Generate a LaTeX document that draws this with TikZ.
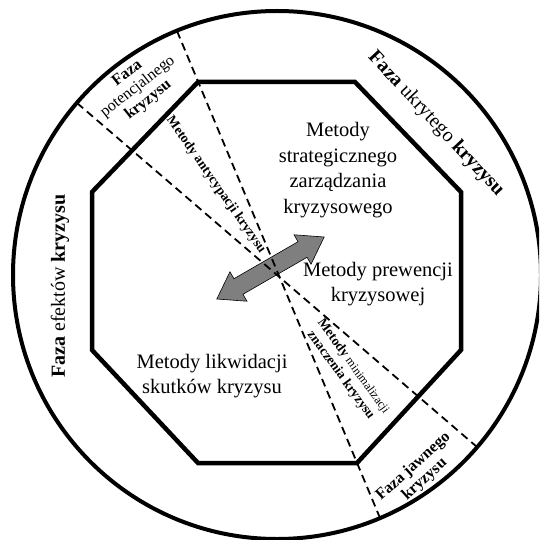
\documentclass[tikz,border=0pt]{standalone}
\usepackage{fontspec}
\setmainfont{Liberation Serif}
\definecolor{arrowgrey}{HTML}{7F7F7F}
\tikzset{
  rim/.style={line width=4pt},
  octo/.style={line width=4.5pt,line join=miter},
  % the two diameters that cut the phases apart
  split/.style={line width=1.8pt,dash pattern=on 8pt off 5pt},
  method/.style={align=center,inner sep=0,font=\fontsize{20.5}{25.5}\selectfont},
  phase/.style={align=center,inner sep=0,font=\fontsize{20}{22}\selectfont},
  smallphase/.style={align=center,inner sep=0,font=\fontsize{16}{17}\selectfont},
  side/.style={align=center,inner sep=0,font=\fontsize{13.5}{15.5}\selectfont},
  bigarrow/.style={fill=arrowgrey,draw=black,line width=0.6pt},
}

\begin{document}
\begin{tikzpicture}[x=1pt,y=-1pt]
  \useasboundingbox (0,0) rectangle (539,540);
  \clip (0,0) rectangle (539,540);
  % outer ring of the phases
  \coordinate (c) at (277,275);
  \draw[rim] (c) circle[radius=264pt];
  % octagon of the methods, corners clockwise from the top left
  \coordinate (o1) at (198,82);  \coordinate (o2) at (355,82);
  \coordinate (o3) at (461,192); \coordinate (o4) at (461,350);
  \coordinate (o5) at (357,463); \coordinate (o6) at (198,463);
  \coordinate (o7) at (92,350);  \coordinate (o8) at (92,192);
  \draw[octo] (o1) -- (o2) -- (o3) -- (o4) -- (o5) -- (o6) -- (o7) -- (o8) -- cycle;
  % grey double arrow in the middle
  \begin{scope}[shift={(270.5,268)},rotate=30]
    \draw[bigarrow] (62,0) -- (37,17) -- (37,9) -- (-37,9) -- (-37,17) -- (-62,0)
      -- (-37,-17) -- (-37,-9) -- (37,-9) -- (37,-17) -- cycle;
  \end{scope}
  % dashed diameters, ends on the ring
  \coordinate (aTop) at (177,31);  \coordinate (aBot) at (380,518);
  \coordinate (bTop) at (77,103);  \coordinate (bBot) at (477,447);
  \draw[split] (aTop) -- (aBot);
  \draw[split] (bTop) -- (bBot);
  % methods
  \node[method] (strat) at (338,170) {Metody\\strategicznego\\zarządzania\\kryzysowego};
  \node[method] (prew) at (378,284) {Metody prewencji\\kryzysowej};
  \node[method] (likw) at (212,376) {Metody likwidacji\\skutków kryzysu};
  \node[side,rotate=-55] (antyc) at (216,185) {\textbf{Metody antycypacji kryzysu}};
  \node[side,rotate=-54] (minim) at (347,371)
    {\textbf{Metody} {\fontsize{12}{15}\selectfont minimalizacji}\\\textbf{znaczenia kryzysu}};
  % phases
  \node[phase,rotate=-47] (ukryty) at (436,124) {\textbf{Faza} ukrytego \textbf{kryzysu}};
  \node[phase,rotate=90] (efekty) at (60,286) {\textbf{Faza} efektów \textbf{kryzysu}};
  \node[smallphase,rotate=38] (potenc) at (138,87) {\textbf{Faza}\\potencjalnego\\\textbf{kryzysu}};
  \node[smallphase,rotate=42,font=\fontsize{16}{17}\selectfont\bfseries] (jawny) at (419,473) {Faza jawnego\\kryzysu};
\end{tikzpicture}
\end{document}
